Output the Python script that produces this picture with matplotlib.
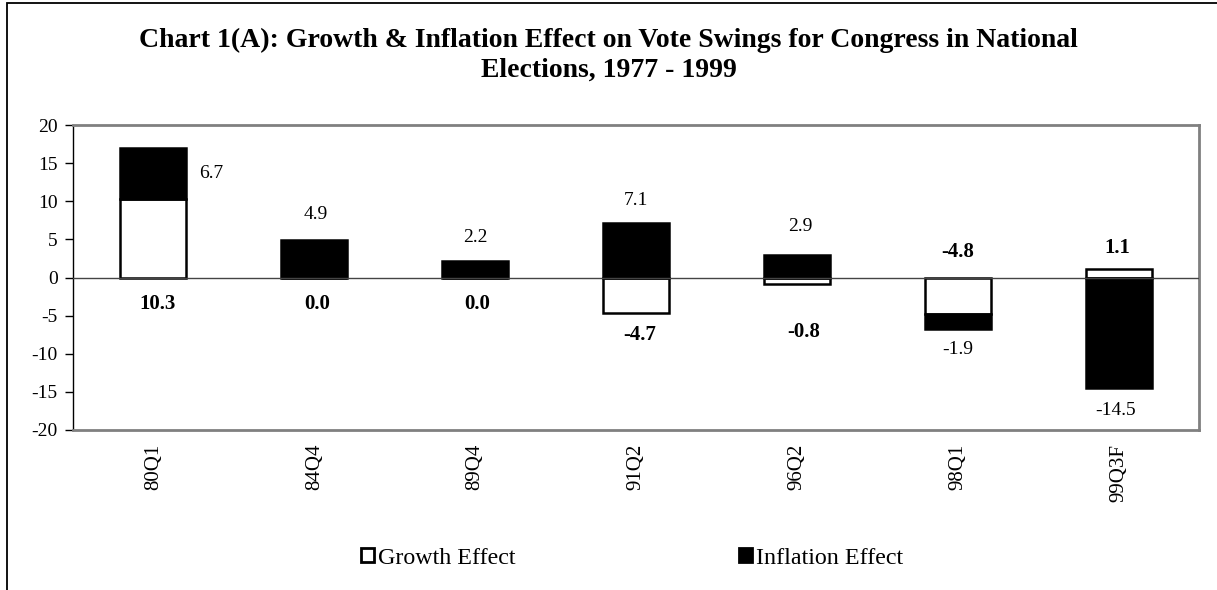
import matplotlib
matplotlib.use("Agg")
import matplotlib.pyplot as plt
from matplotlib.patches import Rectangle, Patch
import numpy as np

categories = ["80Q1", "84Q4", "89Q4", "91Q2", "96Q2", "98Q1", "99Q3F"]
growth = [10.3, 0.0, 0.0, -4.7, -0.8, -4.8, 1.1]
inflation = [6.7, 4.9, 2.2, 7.1, 2.9, -1.9, -14.5]
yticks = [-20, -15, -10, -5, 0, 5, 10, 15, 20]

# label layout (data-unit y positions and x shifts for the value labels)
growth_label_y = [-3.5, -3.5, -3.5, -7.5, -7.1, 3.3, 3.9]
growth_label_dx = [0.025, 0.02, 0.01, 0.02, 0.04, 0.0, -0.01]
infl_label_y = [13.6, 8.3, 5.2, 10.1, 6.7, -9.4, -17.4]
infl_label_dx = [0.36, 0.01, 0.0, 0.0, 0.02, 0.0, -0.02]

plt.rcParams['font.family'] = ['Liberation Serif', 'DejaVu Serif']

W, H = 1217, 590
fig = plt.figure(figsize=(W / 100, H / 100), dpi=100)
# outer frame (cropped on right and bottom)
fig.patches.append(Rectangle((7 / W, -0.1), 1.2, 1.1 - 3 / H, transform=fig.transFigure,
                             fill=False, edgecolor='black', linewidth=1.3))

ax = fig.add_axes([73 / W, 1 - 430 / H, (1199 - 73) / W, (430 - 125) / H])
x = np.arange(len(categories))
g = np.array(growth)
inf = np.array(inflation)
bw = 0.41

pos_base = np.where(g > 0, g, 0)
neg_base = np.where(g < 0, g, 0)
inf_bottom = np.where(inf >= 0, pos_base, neg_base)

ax.bar(x, g, width=bw, color='white', edgecolor='black', linewidth=1.8, zorder=2)
ax.bar(x, inf, width=bw, bottom=inf_bottom, color='black', edgecolor='black', linewidth=1.8, zorder=2)

ax.set_xlim(-0.5, len(categories) - 0.5)
ax.set_ylim(-20, 20)
ax.set_yticks(yticks)
ax.set_yticklabels([str(v) for v in yticks], fontsize=14)
ax.axhline(0, color='#444444', linewidth=1.0, zorder=3)
ax.set_xticks(x)
ax.set_xticklabels(categories, rotation=90, fontsize=15)
ax.tick_params(axis='x', length=0, pad=10)
ax.tick_params(axis='y', length=6, direction='out', width=1, pad=5)
for s in ['top', 'right', 'bottom']:
    ax.spines[s].set_color('#808080')
    ax.spines[s].set_linewidth(2.0)
ax.spines['left'].set_color('black')
ax.spines['left'].set_linewidth(1.0)

for i in range(len(categories)):
    ax.text(x[i] + growth_label_dx[i], growth_label_y[i], f"{growth[i]:.1f}", ha='center', va='center',
            fontsize=15, fontweight='bold')
    ax.text(x[i] + infl_label_dx[i], infl_label_y[i], f"{inflation[i]:.1f}", ha='center', va='center',
            fontsize=14)

fig.text(0.5, 1 - 47 / H, "Chart 1(A): Growth & Inflation Effect on Vote Swings for Congress in National",
         ha='center', va='baseline', fontsize=20, fontweight='bold')
fig.text(0.5, 1 - 77 / H, "Elections, 1977 - 1999", ha='center', va='baseline', fontsize=20,
         fontweight='bold')

handles = [Patch(facecolor='white', edgecolor='black', linewidth=2.0, label='Growth Effect'),
           Patch(facecolor='black', edgecolor='black', linewidth=2.0, label='Inflation Effect')]
fig.legend(handles=handles, loc='center left', bbox_to_anchor=(361 / W, 1 - 558 / H), ncol=2,
           frameon=False, fontsize=17.3, handlelength=0.55, handleheight=0.55, handletextpad=0.15,
           columnspacing=9.3, borderpad=0, borderaxespad=0)

fig.savefig("out.png", dpi=100)
